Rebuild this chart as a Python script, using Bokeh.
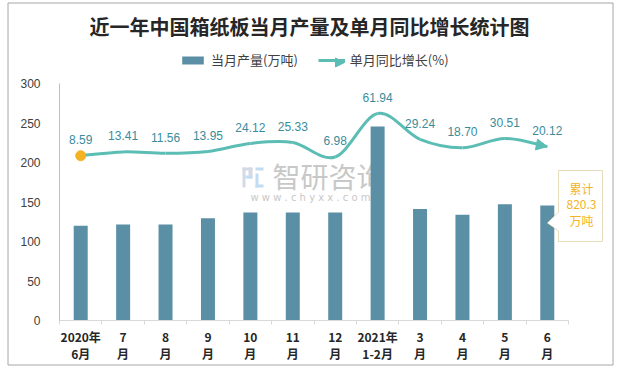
import numpy as np
from bokeh.plotting import figure
from bokeh.models import (Range1d, FixedTicker, Label, Legend, LegendItem, Arrow,
                          NormalHead, PolyAnnotation)
from bokeh.core.properties import value
from bokeh.embed import file_html
from bokeh.resources import INLINE

# ---------------- data ----------------
title_text = "近一年中国箱纸板当月产量及单月同比增长统计图"
categories = ["2020年\n6月", "7\n月", "8\n月", "9\n月", "10\n月", "11\n月", "12\n月",
              "2021年\n1-2月", "3\n月", "4\n月", "5\n月", "6\n月"]
output = [120.0, 121.5, 121.5, 129.5, 136.7, 136.7, 136.7, 245.6, 141.0, 134.0, 147.0, 145.5]
growth = [8.59, 13.41, 11.56, 13.95, 24.12, 25.33, 6.98, 61.94, 29.24, 18.70, 30.51, 20.12]
y_ticks = [0, 50, 100, 150, 200, 250, 300]
series_names = ["当月产量(万吨)", "单月同比增长(%)"]
cumulative_total = "820.3"

# ---------------- style ----------------
BAR = "#5b8fa6"
LINE = "#5bbdb4"
LABEL = "#3a8c9c"
DOT = "#f5b324"
CJK = "Noto Sans CJK SC"

W, H = 620, 368
PX_X = 509.0 / 12           # pixels per category
PX_Y = 237.0 / 300          # pixels per unit (left axis)
FRAME_L, FRAME_B = 59, 320  # canvas px of (x=-0.5, y=0)
x_start = -0.5 - FRAME_L / PX_X
x_end = x_start + W / PX_X
y_end = FRAME_B / PX_Y
y_start = y_end - H / PX_Y


def cx(px):
    return x_start + px / PX_X


def cy(py):
    return y_end - py / PX_Y


xs = np.arange(len(categories))

p = figure(width=W, height=H, output_backend="svg", toolbar_location=None,
           x_range=Range1d(x_start, x_end), y_range=Range1d(y_start, y_end),
           min_border_left=0, min_border_right=0, min_border_top=0, min_border_bottom=0)
# growth line lives on a hidden secondary scale (-200..100 over the same 0..300 span)
p.extra_y_ranges = {"pct": Range1d(y_start - 200, y_end - 200)}
p.outline_line_color = None
p.xgrid.visible = False
p.ygrid.visible = False
p.background_fill_color = "white"
p.border_fill_color = "white"

# outer frame
p.quad(left=[cx(7.5)], right=[cx(612.5)], bottom=[cy(364.5)], top=[cy(2.5)],
       fill_alpha=0, line_color="#a6a6a6", line_width=1)

# axes (positioned inside the canvas)
p.xaxis.fixed_location = 0
p.xaxis.bounds = (-0.5, len(categories) - 0.5)
p.xaxis.ticker = FixedTicker(ticks=list(xs), minor_ticks=[i - 0.5 for i in range(len(categories) + 1)])
p.xaxis.major_label_overrides = {int(i): c for i, c in zip(xs, categories)}
p.xaxis.major_tick_line_color = None
p.xaxis.minor_tick_line_color = "#d9d9d9"
p.xaxis.minor_tick_in = 0
p.xaxis.minor_tick_out = 4
p.xaxis.axis_line_color = "#d9d9d9"
p.xaxis.major_label_standoff = 1
p.xaxis.major_label_text_font = CJK
p.xaxis.major_label_text_font_size = "12px"
p.xaxis.major_label_text_font_style = "bold"
p.xaxis.major_label_text_color = "#262626"
p.xaxis.major_label_text_line_height = 1.0

p.yaxis.fixed_location = -0.5
p.yaxis.bounds = (0, 300)
p.yaxis.ticker = FixedTicker(ticks=y_ticks, minor_ticks=[])
p.yaxis.major_tick_line_color = None
p.yaxis.minor_tick_line_color = None
p.yaxis.axis_line_color = "#bfbfbf"
p.yaxis.major_label_standoff = 13
p.yaxis.major_label_text_font = "Liberation Sans"
p.yaxis.major_label_text_font_size = "12px"
p.yaxis.major_label_text_color = "#404040"

# watermark (behind bars)
p.text(x=[cx(328)], y=[cy(175)], text=["智研咨询"], text_font=value(CJK), text_font_size="28px",
       text_color="#c8c8c8", text_align="center", text_baseline="middle")
p.text(x=[cx(310)], y=[cy(197)], text=["w w w . c h y x x . c o m"], text_font=value("DejaVu Sans"),
       text_font_size="10px", text_color="#c8c8c8", text_align="center", text_baseline="middle")
p.quad(left=[cx(242), cx(242), cx(248)], right=[cx(252), cx(245), cx(252)],
       bottom=[cy(170), cy(187), cy(178)], top=[cy(167), cy(167), cy(167)],
       fill_color="#d3dae6", line_color=None)
p.quad(left=[cx(245), cx(255), cx(255), cx(255)], right=[cx(252), cx(263), cx(258), cx(263)],
       bottom=[cy(178), cy(170), cy(187), cy(187)], top=[cy(175), cy(167), cy(173), cy(184)],
       fill_color="#c2dcf1", line_color=None)

# bars
bars = p.vbar(x=xs, top=output, width=0.33, fill_color=BAR, line_color=None)

# smoothed growth line (cubic Bezier through the data points)
pts = np.column_stack([xs.astype(float), np.array(growth)])
x0, y0, x1, y1, cx0, cy0, cx1, cy1 = ([] for _ in range(8))
n = len(pts)
for i in range(n - 1):
    P0 = pts[i - 1] if i > 0 else pts[i]
    P1 = pts[i]
    P2 = pts[i + 1]
    P3 = pts[i + 2] if i + 2 < n else pts[i + 1]
    c1 = P1 + (P2 - P0) / 6.0
    c2 = P2 - (P3 - P1) / 6.0
    x0.append(P1[0]); y0.append(P1[1]); x1.append(P2[0]); y1.append(P2[1])
    cx0.append(c1[0]); cy0.append(c1[1]); cx1.append(c2[0]); cy1.append(c2[1])
p.bezier(x0=x0, y0=y0, x1=x1, y1=y1, cx0=cx0, cy0=cy0, cx1=cx1, cy1=cy1,
         line_color=LINE, line_width=3, y_range_name="pct")
p.add_layout(Arrow(end=NormalHead(size=11, fill_color=LINE, line_color=LINE),
                   x_start=cx1[-1], y_start=cy1[-1], x_end=x1[-1], y_end=y1[-1],
                   line_alpha=0, y_range_name="pct"))
# legend proxy for the line series (no visible data)
legend_line = p.line(x=[np.nan, np.nan], y=[np.nan, np.nan], line_color=LINE, line_width=3)

p.scatter(x=[xs[0]], y=[growth[0]], size=10, fill_color=DOT, line_color=DOT, y_range_name="pct")

p.text(x=xs, y=growth, text=[f"{v:.2f}" for v in growth], y_range_name="pct", y_offset=-16,
       text_font=value("Liberation Sans"), text_font_size="12px", text_color=LABEL,
       text_align="center", text_baseline="middle")

# callout
p.add_layout(PolyAnnotation(xs=[cx(558), cx(602), cx(602), cx(558), cx(558), cx(546.5), cx(558)],
                            ys=[cy(170), cy(170), cy(241), cy(241), cy(230.5), cy(222.5), cy(211.5)],
                            fill_color="white", fill_alpha=1, line_color="#b08a1e", line_width=1))
for txt, py in zip(["累计", cumulative_total, "万吨"], [188, 204, 220]):
    p.add_layout(Label(x=cx(581), y=cy(py), text=txt, text_font=CJK, text_font_size="12px",
                       text_color=DOT, text_align="center", text_baseline="middle"))

# title
p.add_layout(Label(x=cx(309), y=cy(26), text=title_text, text_font=CJK, text_font_size="20px",
                   text_font_style="bold", text_color="#262626", text_align="center",
                   text_baseline="middle"))

# legend
legend = Legend(items=[LegendItem(label=series_names[0], renderers=[bars]),
                       LegendItem(label=series_names[1], renderers=[legend_line])],
                orientation="horizontal", location=(179, H - 62 - 7), padding=0, margin=0,
                border_line_color=None, background_fill_alpha=0, spacing=20,
                glyph_width=27, glyph_height=10, label_height=14, label_standoff=5,
                label_text_font=CJK, label_text_font_size="13px", label_text_color="#404040")
p.add_layout(legend, "center")
# arrow tip on the legend line
p.add_layout(Arrow(end=NormalHead(size=9, fill_color=LINE, line_color=LINE),
                   x_start=cx(333), y_start=cy(62), x_end=cx(344), y_end=cy(62), line_alpha=0))

open("out.html", "w").write(file_html(p, INLINE))
